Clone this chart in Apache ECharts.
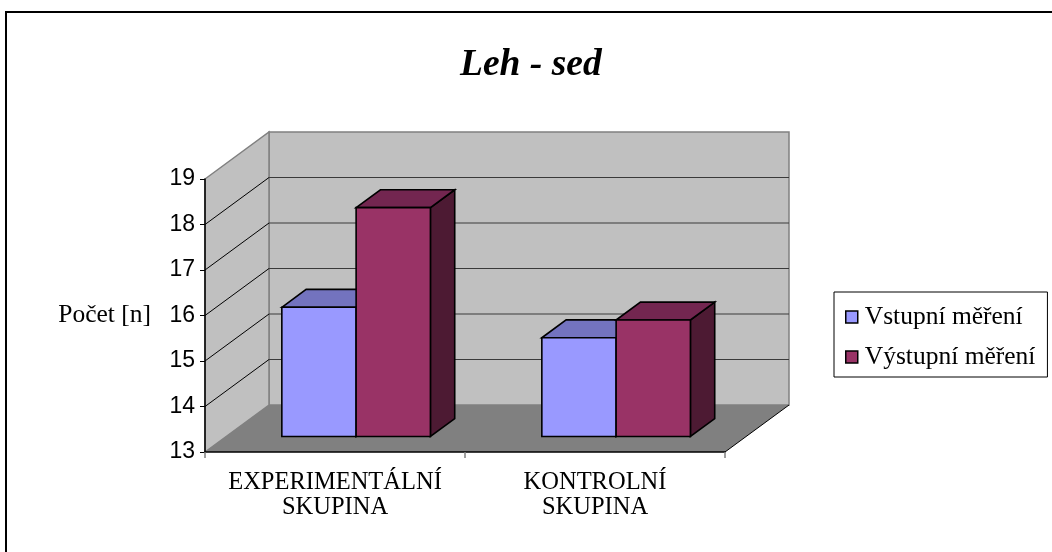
<!DOCTYPE html>
<html>
<head>
<meta charset="utf-8">
<title>Leh - sed</title>
<script src="https://cdn.jsdelivr.net/npm/echarts@6/dist/echarts.min.js"></script>
<style>
  html, body { margin: 0; padding: 0; background: #fff; }
  #chart { width: 1052px; height: 552px; }
</style>
</head>
<body>
<div id="chart"></div>
<script>
// Chart data
const categories = ['EXPERIMENTÁLNÍ\nSKUPINA', 'KONTROLNÍ\nSKUPINA'];
const seriesNames = ['Vstupní měření', 'Výstupní měření'];
const vstupni = [15.84, 15.17];
const vystupni = [18.03, 15.56];
const yMin = 13;
const yMax = 19;
const yStep = 1;

// Oblique projection of the 3D chamber: offset of the back plane from the front plane
const DEPTH_X = 64;
const DEPTH_Y = -47;
// Bars sit between these fractions of the chamber depth
const BAR_FRONT = 0.33;
const BAR_DEPTH = 0.38;
const GAP_WIDTH = 1.5; // gap between category groups, in bar widths

const palette = [
  { front: '#9999FF', top: '#7373BF', side: '#4D4D80' },
  { front: '#993366', top: '#732650', side: '#4D1A33' }
];

const chart = echarts.init(document.getElementById('chart'), null, { renderer: 'canvas' });

function renderChamber(params, api) {
  const cs = params.coordSys;
  const L = cs.x, R = cs.x + cs.width;
  const T = api.coord([0, yMax])[1];
  const B = api.coord([0, yMin])[1];
  const dx = DEPTH_X, dy = DEPTH_Y;
  const children = [];
  children.push({
    type: 'polygon',
    shape: { points: [[L + dx, T + dy], [R + dx, T + dy], [R + dx, B + dy], [L + dx, B + dy]] },
    style: { fill: '#C0C0C0', stroke: '#808080', lineWidth: 1.5 }
  });
  children.push({
    type: 'polygon',
    shape: { points: [[L, T], [L + dx, T + dy], [L + dx, B + dy], [L, B]] },
    style: { fill: '#C0C0C0', stroke: '#808080', lineWidth: 1.5 }
  });
  children.push({
    type: 'polygon',
    shape: { points: [[L, B], [R, B], [R + dx, B + dy], [L + dx, B + dy]] },
    style: { fill: '#808080' }
  });
  children.push({
    type: 'line',
    shape: { x1: R, y1: B, x2: R + dx, y2: B + dy },
    style: { stroke: '#000', lineWidth: 1 }
  });
  for (let v = yMin + yStep; v < yMax; v += yStep) {
    const y = api.coord([0, v])[1];
    children.push({
      type: 'line',
      shape: { x1: L + dx, y1: y + dy, x2: R + dx, y2: y + dy },
      style: { stroke: '#3a3a3a', lineWidth: 1.2 }
    });
    children.push({
      type: 'line',
      shape: { x1: L, y1: y, x2: L + dx, y2: y + dy },
      style: { stroke: '#000', lineWidth: 1 }
    });
  }
  return { type: 'group', children: children };
}

function makeBarRenderer(sIdx, nSeries) {
  const col = palette[sIdx];
  return function (params, api) {
    const cat = api.value(0);
    const val = api.value(1);
    const band = api.size([1, 0])[0];
    const bw = band / (nSeries + GAP_WIDTH);
    const topPt = api.coord([cat, val]);
    const basePt = api.coord([cat, yMin]);
    const ox = BAR_FRONT * DEPTH_X, oy = BAR_FRONT * DEPTH_Y;
    const x0 = topPt[0] - bw * nSeries / 2 + sIdx * bw + ox;
    const x1 = x0 + bw;
    const yt = topPt[1] + oy;
    const yb = basePt[1] + oy;
    const dx = BAR_DEPTH * DEPTH_X, dy = BAR_DEPTH * DEPTH_Y;
    const edge = { stroke: '#000', lineWidth: 1.6, lineJoin: 'miter' };
    return {
      type: 'group',
      children: [
        {
          type: 'polygon',
          shape: { points: [[x1, yt], [x1 + dx, yt + dy], [x1 + dx, yb + dy], [x1, yb]] },
          style: Object.assign({ fill: col.side }, edge)
        },
        {
          type: 'polygon',
          shape: { points: [[x0, yt], [x0 + dx, yt + dy], [x1 + dx, yt + dy], [x1, yt]] },
          style: Object.assign({ fill: col.top }, edge)
        },
        {
          type: 'polygon',
          shape: { points: [[x0, yt], [x1, yt], [x1, yb], [x0, yb]] },
          style: Object.assign({ fill: col.front }, edge)
        }
      ]
    };
  };
}

const seriesValues = [vstupni, vystupni];
const barSeries = seriesValues.map(function (vals, s) {
  return {
    name: seriesNames[s],
    type: 'custom',
    z: 3,
    renderItem: makeBarRenderer(s, seriesValues.length),
    itemStyle: { color: palette[s].front, borderColor: '#000', borderWidth: 1.5 },
    encode: { x: 0, y: 1 },
    data: vals.map(function (v, i) { return [i, v]; })
  };
});

const option = {
  animation: false,
  backgroundColor: '#fff',
  title: {
    text: 'Leh - sed',
    left: 455,
    top: 41,
    textStyle: {
      fontFamily: 'Liberation Serif',
      fontStyle: 'italic',
      fontWeight: 'bold',
      fontSize: 37.5,
      color: '#000'
    }
  },
  legend: {
    orient: 'vertical',
    left: 834,
    top: 292,
    padding: [12, 12, 7, 11],
    itemGap: 14,
    itemWidth: 12,
    itemHeight: 12,
    icon: 'rect',
    borderColor: '#000',
    borderWidth: 1,
    backgroundColor: '#fff',
    itemStyle: { borderColor: '#000', borderWidth: 1.5 },
    textStyle: {
      fontFamily: 'Liberation Serif',
      fontSize: 25.5,
      color: '#000',
      padding: [0, 0, 0, 2]
    },
    data: seriesNames
  },
  grid: { left: 205, top: 179, width: 520, height: 273 },
  xAxis: {
    type: 'category',
    data: categories,
    z: 6,
    boundaryGap: true,
    axisLine: { show: true, lineStyle: { color: '#000', width: 1.5 } },
    axisTick: { show: true, length: 6, lineStyle: { color: '#808080', width: 1.5 } },
    axisLabel: {
      interval: 0,
      margin: 18,
      fontFamily: 'Liberation Serif',
      fontSize: 24.5,
      lineHeight: 25,
      color: '#000'
    },
    splitLine: { show: false }
  },
  yAxis: {
    type: 'value',
    min: yMin,
    max: yMax,
    interval: yStep,
    z: 6,
    name: 'Počet [n]',
    nameLocation: 'middle',
    nameRotate: 0,
    nameGap: 54,
    nameTextStyle: { fontFamily: 'Liberation Serif', fontSize: 25.5, color: '#000', align: 'right' },
    axisLine: { show: true, lineStyle: { color: '#000', width: 1.5 } },
    axisTick: { show: true, length: 5, lineStyle: { color: '#000', width: 1 } },
    axisLabel: { margin: 10, fontFamily: 'Liberation Sans', fontSize: 23, color: '#000' },
    splitLine: { show: false }
  },
  graphic: [
    {
      type: 'rect',
      shape: { x: 6, y: 12, width: 1100, height: 600 },
      style: { fill: null, stroke: '#000', lineWidth: 2 },
      silent: true,
      z: 100
    }
  ],
  series: [
    {
      name: 'chamber',
      type: 'custom',
      z: 1,
      silent: true,
      renderItem: renderChamber,
      encode: { x: 0, y: 1 },
      data: [[0, yMin]]
    }
  ].concat(barSeries)
};

chart.setOption(option);
</script>
</body>
</html>
